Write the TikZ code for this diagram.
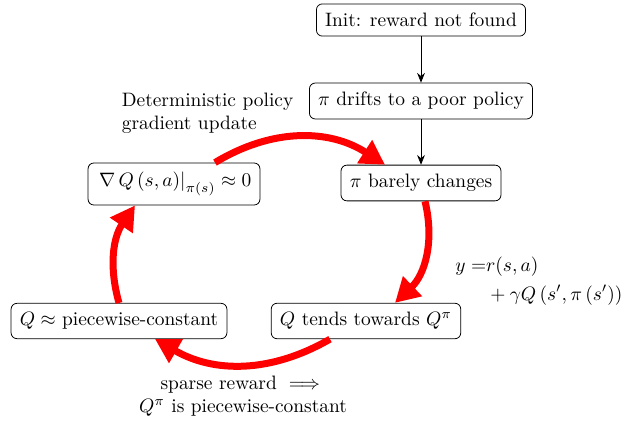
\documentclass[tikz,border=0pt]{standalone}
\usepackage{amsmath}
\usetikzlibrary{arrows.meta}
\begin{document}
\begin{tikzpicture}[x=0.515pt,y=0.515pt,
  box/.style={draw, rounded corners=3pt, inner xsep=4.5pt, inner ysep=4.7pt, thin},
  flow/.style={-{Stealth[length=5pt,width=4pt]}, thin},
  cyc/.style={red, line width=3.6pt, -{Triangle[length=12.5pt,width=13.5pt]}}]
\useasboundingbox (0,0) rectangle (621,-423);
\node[box] (init) at (421,-20) {Init: reward not found};
\node[box] (drift) at (421,-101) {$\pi$ drifts to a poor policy};
\node[box] (barely) at (421,-183) {$\pi$ barely changes};
\node[box] (qtend) at (366,-321) {$Q$ tends towards $Q^{\pi}$};
\node[box] (qpc) at (119,-321) {$Q\approx$ piecewise-constant};
\node[box] (grad) at (174,-184) {$\left.\nabla\, Q\left(s,a\right)\right|_{\pi(s)}\approx 0$};
\node[align=left, anchor=west] (lbl1) at (115,-113) {Deterministic policy\\gradient update};
\node[anchor=west, inner sep=0pt] (lbl2) at (455,-281) {$\begin{aligned} y =& r(s,a)\\ & +\gamma Q\left(s',\pi\left(s'\right)\right)\end{aligned}$};
\node[align=center] (lbl3) at (243,-396) {sparse reward $\implies$\\$Q^{\pi}$ is piecewise-constant};
\draw[flow] (init) -- (drift);
\draw[flow] (drift) -- (barely);
\draw[cyc] ([shift={(41,0)}]grad.north) to[bend left=32] ([shift={(-36,0)}]barely.north);
\draw[cyc] ([shift={(4,0)}]barely.south) to[bend left=30] ([shift={(29,0)}]qtend.north);
\draw[cyc] ([shift={(-36,0)}]qtend.south) to[bend left=30] ([shift={(36,0)}]qpc.south);
\draw[cyc] (qpc.north) to[bend left=25] ([shift={(-39,0)}]grad.south);
\end{tikzpicture}
\end{document}
